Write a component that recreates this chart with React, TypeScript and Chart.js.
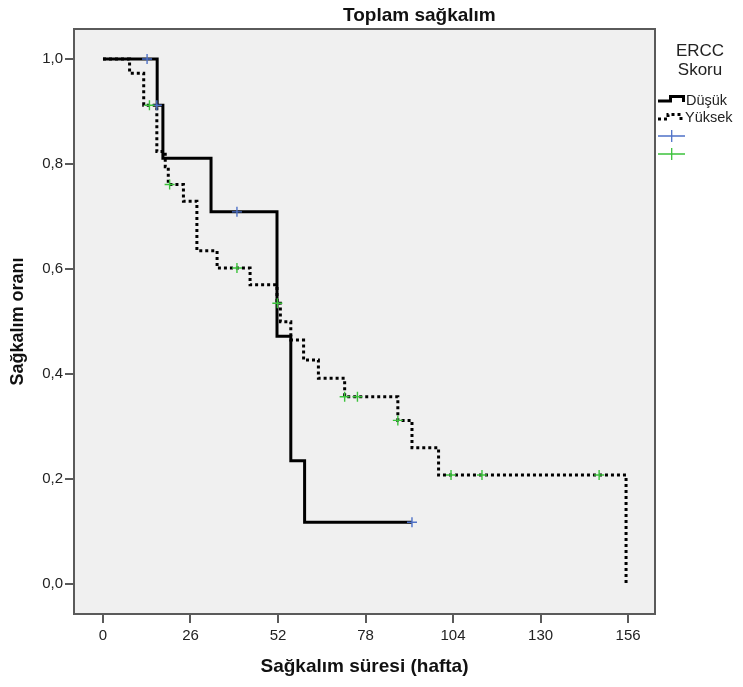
import React, { useEffect, useRef } from "react";
import { Chart, registerables } from "chart.js";

Chart.register(...registerables);

// ---- data ----
const xTicks = [0, 26, 52, 78, 104, 130, 156];
const yTicks = [0, 0.2, 0.4, 0.6, 0.8, 1.0];

const groupNames = ["Düşük", "Yüksek"];

// Düşük group: step curve (time, survival after event)
const lowTimes = [0, 16.1, 17.8, 32.1, 51.7, 55.8, 59.9, 91.8];
const lowSurv = [1.0, 0.912, 0.811, 0.709, 0.472, 0.235, 0.118, 0.118];
const lowCensorTimes = [13.1, 16.0, 39.8, 91.8];
const lowCensorSurv = [1.0, 0.912, 0.709, 0.118];

// Yüksek group
const highTimes = [0, 7.9, 12.1, 16.0, 18.5, 19.4, 23.9, 27.9, 33.9, 43.7, 51.7, 52.7, 55.8, 59.6, 64.0, 71.8, 87.6, 91.8, 99.7, 155.4];
const highSurv = [1.0, 0.973, 0.912, 0.824, 0.795, 0.761, 0.729, 0.635, 0.602, 0.57, 0.535, 0.5, 0.465, 0.427, 0.392, 0.357, 0.312, 0.26, 0.208, 0.0];
const highCensorTimes = [13.8, 19.8, 39.8, 51.8, 71.8, 75.6, 87.6, 103.4, 112.6, 147.4];
const highCensorSurv = [0.912, 0.761, 0.602, 0.535, 0.357, 0.357, 0.312, 0.208, 0.208, 0.208];

const FONT = '"Liberation Sans", Arial, sans-serif';
const BLUE = "#4f72c8";
const GREEN = "#3cc23c";
const FRAME = "#5a5a5a";

const pts = (xs: number[], ys: number[]) => xs.map((x, i) => ({ x, y: ys[i] }));

const decorPlugin = {
  id: "decor",
  beforeDraw(chart: any) {
    const { ctx, chartArea: a, width, height } = chart;
    ctx.save();
    ctx.fillStyle = "#ffffff";
    ctx.fillRect(0, 0, width, height);
    ctx.fillStyle = "#f0f0f0";
    ctx.fillRect(a.left, a.top, a.right - a.left, a.bottom - a.top);
    ctx.restore();
  },
  afterDraw(chart: any) {
    const { ctx, chartArea: a } = chart;
    ctx.save();
    // frame
    ctx.strokeStyle = FRAME;
    ctx.lineWidth = 2;
    ctx.strokeRect(a.left, a.top, a.right - a.left, a.bottom - a.top);

    // title
    ctx.fillStyle = "#111";
    ctx.font = `bold 19px ${FONT}`;
    ctx.textAlign = "left";
    ctx.textBaseline = "alphabetic";
    ctx.fillText("Toplam sağkalım", 343, 21);

    // legend header
    ctx.fillStyle = "#222";
    ctx.font = `17px ${FONT}`;
    ctx.textAlign = "center";
    ctx.fillText("ERCC", 700, 56);
    ctx.fillText("Skoru", 700, 75);

    // legend items
    ctx.textAlign = "left";
    ctx.font = `14.5px ${FONT}`;
    // Düşük icon
    ctx.strokeStyle = "#000";
    ctx.lineWidth = 3;
    ctx.setLineDash([]);
    ctx.beginPath();
    ctx.moveTo(658, 101);
    ctx.lineTo(670.5, 101);
    ctx.lineTo(670.5, 96.5);
    ctx.lineTo(683.5, 96.5);
    ctx.lineTo(683.5, 102);
    ctx.stroke();
    ctx.fillText(groupNames[0], 686, 105);
    // Yüksek icon
    ctx.setLineDash([3, 3]);
    ctx.beginPath();
    ctx.moveTo(658, 119);
    ctx.lineTo(668, 119);
    ctx.lineTo(668, 114.5);
    ctx.lineTo(681, 114.5);
    ctx.lineTo(681, 120);
    ctx.stroke();
    ctx.setLineDash([]);
    ctx.fillText(groupNames[1], 685, 122);

    // censor legend rows
    const row = (y: number, color: string) => {
      ctx.strokeStyle = color;
      ctx.lineWidth = 1.3;
      ctx.beginPath();
      ctx.moveTo(658, y);
      ctx.lineTo(685, y);
      ctx.moveTo(671.7, y - 6);
      ctx.lineTo(671.7, y + 6);
      ctx.stroke();
    };
    row(136, BLUE);
    row(154, GREEN);
    ctx.restore();
  },
};

export default function App() {
  const ref = useRef<HTMLCanvasElement | null>(null);

  useEffect(() => {
    document.body.style.margin = "0";
    document.body.style.overflow = "hidden";
    const canvas = ref.current;
    if (!canvas) return;
    const chart = new Chart(canvas, {
      type: "line",
      data: {
        datasets: [
          {
            label: groupNames[0],
            data: pts(lowTimes, lowSurv),
            stepped: "before",
            borderColor: "#000",
            borderWidth: 3,
            pointRadius: 0,
            fill: false,
            order: 4,
          },
          {
            label: groupNames[1],
            data: pts(highTimes, highSurv),
            stepped: "before",
            borderColor: "#000",
            borderWidth: 3,
            borderDash: [3, 3],
            borderCapStyle: "butt",
            pointRadius: 0,
            fill: false,
            order: 3,
          },
          {
            type: "scatter",
            label: groupNames[0] + " censored",
            data: pts(lowCensorTimes, lowCensorSurv),
            showLine: false,
            pointStyle: "cross",
            pointRadius: 5,
            borderColor: BLUE,
            borderWidth: 1.4,
            order: 2,
          },
          {
            type: "scatter",
            label: groupNames[1] + " censored",
            data: pts(highCensorTimes, highCensorSurv),
            showLine: false,
            pointStyle: "cross",
            pointRadius: 5,
            borderColor: GREEN,
            borderWidth: 1.4,
            order: 1,
          },
        ] as any,
      },
      options: {
        responsive: false,
        animation: false,
        events: [],
        layout: { padding: { top: 29, right: 88, left: 0, bottom: 0 } },
        plugins: {
          legend: { display: false },
          title: { display: false },
          tooltip: { enabled: false },
        },
        scales: {
          x: {
            type: "linear",
            min: -8.61,
            max: 164.0,
            afterBuildTicks: (s: any) => {
              s.ticks = xTicks.map((v) => ({ value: v }));
            },
            afterFit: (s: any) => {
              s.height = 73;
            },
            ticks: {
              autoSkip: false,
              maxRotation: 0,
              padding: 4,
              color: "#222",
              font: { family: FONT, size: 15 },
              callback: (v: any) => String(v),
            },
            grid: {
              drawOnChartArea: false,
              drawTicks: true,
              tickLength: 9,
              color: FRAME,
              lineWidth: 2,
            },
            border: { display: false },
            title: {
              display: true,
              text: "Sağkalım süresi (hafta)",
              color: "#111",
              font: { family: FONT, size: 19, weight: "bold" },
              padding: { top: 0, bottom: 9 },
            },
          },
          y: {
            type: "linear",
            min: -0.0566,
            max: 1.0571,
            afterBuildTicks: (s: any) => {
              s.ticks = yTicks.map((v) => ({ value: v }));
            },
            afterFit: (s: any) => {
              s.width = 74;
            },
            ticks: {
              autoSkip: false,
              padding: 2,
              color: "#222",
              font: { family: FONT, size: 15 },
              callback: (v: any) => Number(v).toFixed(1).replace(".", ","),
            },
            grid: {
              drawOnChartArea: false,
              drawTicks: true,
              tickLength: 9,
              color: FRAME,
              lineWidth: 2,
            },
            border: { display: false },
            title: {
              display: true,
              text: "Sağkalım oranı",
              color: "#111",
              font: { family: FONT, size: 18, weight: "bold" },
              padding: { top: 7, bottom: 0 },
            },
          },
        },
      },
      plugins: [decorPlugin],
    });
    return () => chart.destroy();
  }, []);

  return (
    <canvas
      ref={ref}
      width={743}
      height={687}
      style={{ display: "block", width: 743, height: 687 }}
    />
  );
}
